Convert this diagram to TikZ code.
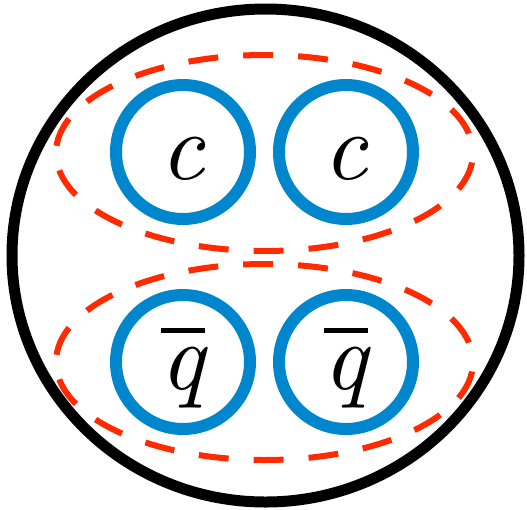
\documentclass[tikz,border=0pt]{standalone}
\usepackage{graphicx}
\usetikzlibrary{shapes.geometric}
\definecolor{quarkblue}{RGB}{0,134,204}
\definecolor{pairred}{RGB}{255,42,0}
\newcommand{\flav}[1]{\scalebox{9.6}{\itshape #1}}
\newcommand{\qbarred}{\scalebox{9.6}{\vbox{\hrule height 0.47pt\kern 1.46pt\hbox{\itshape q}}}}

\begin{document}
\begin{tikzpicture}[x=1pt,y=-1pt,
  hadron/.style={draw,ellipse,line width=11pt,minimum width=507pt,minimum height=493pt},
  pair/.style={draw=pairred,ellipse,line width=6pt,dash pattern=on 30pt off 25pt,dash phase=35pt,minimum width=417pt,minimum height=196pt},
  quark/.style={draw=quarkblue,circle,line width=12pt,minimum size=134pt,inner sep=0pt,text height=54pt,text depth=0pt}]
\useasboundingbox (0,0) rectangle (527,509);
\node[hadron] (meson) at (265.5,255.5) {};
\node[pair] (cc) at (264.5,153) {};
\node[pair] (qq) at (264.5,362) {};
\node[quark] (c1) at (183,152) {\flav{c}};
\node[quark] (c2) at (346,152) {\flav{c}};
\node[quark] (q1) at (183,362) {\qbarred};
\node[quark] (q2) at (346,362) {\qbarred};
\end{tikzpicture}
\end{document}
